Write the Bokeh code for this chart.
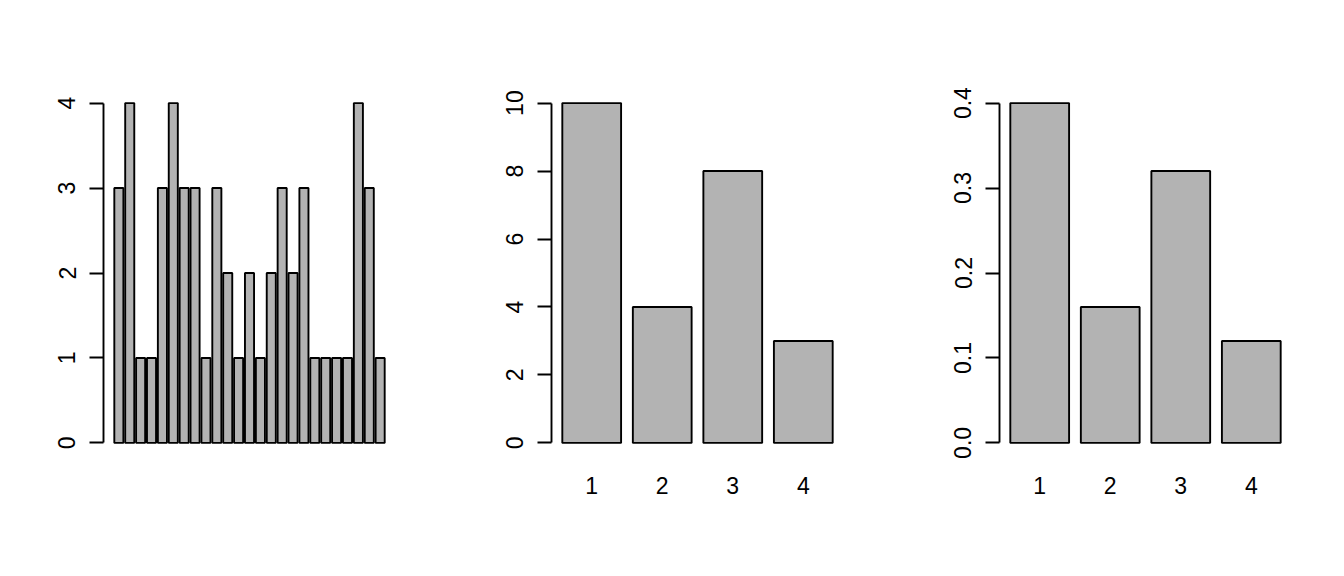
from bokeh.plotting import figure
from bokeh.layouts import row
from bokeh.models import Range1d, FixedTicker, LinearAxis, PrintfTickFormatter
from bokeh.embed import file_html
from bokeh.resources import INLINE

# ---- data ----
counts_all = [3, 4, 1, 1, 3, 4, 3, 3, 1, 3, 2, 1, 2, 1, 2, 3, 2, 3, 1, 1, 1, 1, 4, 3, 1]
categories = ["1", "2", "3", "4"]
freq = [10, 4, 8, 3]
prop = [0.40, 0.16, 0.32, 0.12]

y_ticks_1 = [0, 1, 2, 3, 4]
y_ticks_2 = [0, 2, 4, 6, 8, 10]
y_ticks_3 = [0.0, 0.1, 0.2, 0.3, 0.4]

FONT = "Liberation Sans"
FILL = "#B3B3B3"
BAR_W = 1 / 1.2  # R barplot: width 1, space 0.2 -> in units of bar pitch
LW = 1.9
FS = "23px"


def make_fig(n, ymax, left, right, ticks, fmt=None, labels=None):
    # R barplot limits: bars span [1 - w/2, n + w/2], extended by 4%
    lo, hi = 1 - BAR_W / 2, n + BAR_W / 2
    ext = 0.04 * (hi - lo)
    p = figure(frame_width=292, frame_height=367,
               min_border_left=left, min_border_right=right,
               min_border_top=89, min_border_bottom=96,
               x_range=Range1d(lo - ext, hi + ext),
               y_range=Range1d(-0.04 * ymax, 1.04 * ymax),
               x_axis_location=None, y_axis_location=None,
               output_backend="svg", toolbar_location=None)
    p.grid.visible = False
    p.outline_line_color = None
    p.background_fill_color = "white"
    p.border_fill_color = "white"

    ya = LinearAxis(ticker=FixedTicker(ticks=ticks), bounds=(0, ymax))
    if fmt:
        ya.formatter = PrintfTickFormatter(format=fmt)
    ya.major_label_orientation = "vertical"
    ya.major_tick_out = 14
    ya.major_tick_in = 0
    ya.minor_tick_line_color = None
    ya.axis_line_width = LW
    ya.major_tick_line_width = LW
    ya.axis_line_color = "black"
    ya.major_tick_line_color = "black"
    ya.major_label_text_font = FONT
    ya.major_label_text_font_size = FS
    ya.major_label_text_color = "black"
    ya.major_label_standoff = 14
    p.add_layout(ya, "left")

    if labels is not None:
        xa = LinearAxis(ticker=FixedTicker(ticks=list(range(1, n + 1))),
                        major_label_overrides={i + 1: lab for i, lab in enumerate(labels)})
        xa.axis_line_color = None
        xa.major_tick_line_color = None
        xa.minor_tick_line_color = None
        xa.major_tick_out = 0
        xa.major_tick_in = 0
        xa.major_label_text_font = FONT
        xa.major_label_text_font_size = FS
        xa.major_label_text_color = "black"
        xa.major_label_standoff = 20
        p.add_layout(xa, "below")
    return p


p1 = make_fig(len(counts_all), 4, 103, 53, y_ticks_1)
p1.vbar(x=list(range(1, len(counts_all) + 1)), top=counts_all, bottom=0, width=BAR_W,
        fill_color=FILL, line_color="black", line_width=LW)

p2 = make_fig(len(freq), 10, 103, 53, y_ticks_2, labels=categories)
p2.vbar(x=list(range(1, len(freq) + 1)), top=freq, bottom=0, width=BAR_W,
        fill_color=FILL, line_color="black", line_width=LW)

p3 = make_fig(len(prop), 0.4, 103, 45, y_ticks_3, fmt="%.1f", labels=categories)
p3.vbar(x=list(range(1, len(prop) + 1)), top=prop, bottom=0, width=BAR_W,
        fill_color=FILL, line_color="black", line_width=LW)

layout = row(p1, p2, p3, spacing=0)
open("out.html", "w").write(file_html(layout, INLINE))
